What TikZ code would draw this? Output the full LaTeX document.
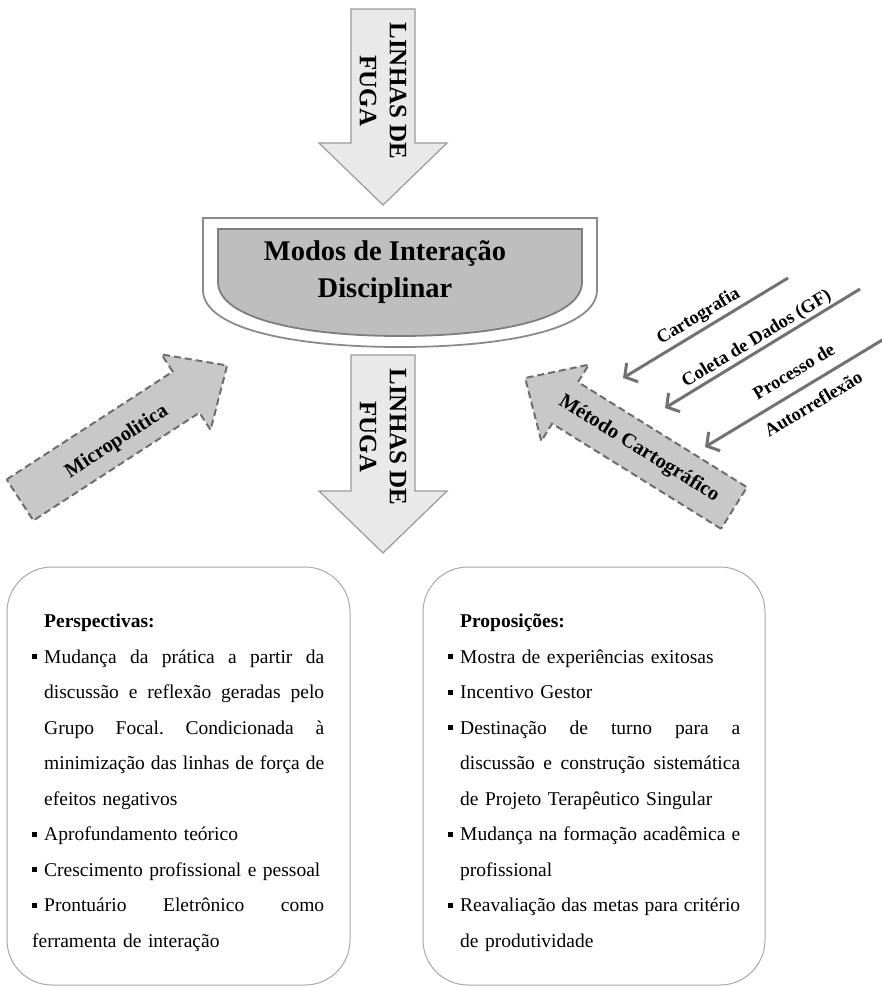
\documentclass[tikz,border=0pt]{standalone}
\usepackage{fontspec}
\setmainfont{Liberation Serif}
\usetikzlibrary{arrows.meta}
\definecolor{fugafill}{HTML}{E9E9E9}
\definecolor{fugaline}{HTML}{9A9A9A}
\definecolor{modosfill}{HTML}{BEBEBE}
\definecolor{modosline}{HTML}{7E7E7E}
\definecolor{dashfill}{HTML}{C8C8C8}
\definecolor{dashline}{HTML}{6E6E6E}
\definecolor{thinline}{HTML}{727272}
\definecolor{boxline}{HTML}{A8A8A8}
\newcommand{\blt}{\makebox[12pt][l]{\rule[4pt]{5pt}{5pt}}}
\newcommand{\jline}[1]{{\spaceskip=0pt\relax\xspaceskip=0pt\relax\makebox[280pt][s]{#1}}}
\begin{document}
\begin{tikzpicture}[x=1pt,y=-1pt,
  fuga/.style={draw=fugaline,fill=fugafill,line width=1.2pt},
  fugatext/.style={rotate=-90,align=center,inner sep=0pt,
    font=\bfseries\fontsize{25}{30}\selectfont},
  dashedarrow/.style={draw=dashline,fill=dashfill,line width=2pt,
    dash pattern=on 7pt off 4pt},
  dashedtext/.style={transform shape,inner sep=0pt,
    font=\bfseries\fontsize{20.5}{24}\selectfont},
  thinarrow/.style={draw=thinline,line width=3pt,
    -{Straight Barb[length=9pt,width=22pt]}},
  arrowlabel/.style={sloped,inner sep=3pt,font=\bfseries\fontsize{18.5}{38}\selectfont},
  roundbox/.style={draw=boxline,line width=1pt,rounded corners=45pt},
  boxtext/.style={anchor=north west,inner sep=0pt,text width=300pt,align=left,
    font=\fontsize{19.5}{35.5}\selectfont}]
\useasboundingbox (0,0) rectangle (881,987);

\draw[fuga] (351,9) -- (415,9) -- (415,143) -- (447,143) -- (383,205)
  -- (319,143) -- (351,143) -- cycle;
\node[fugatext] (fugatop) at (383,91) {LINHAS DE\\FUGA};

\draw[line width=1.8pt,draw=modosline!90,fill=white] (203,218) -- (597,218) -- (597,290)
  .. controls (597,328) and (510,347) .. (400,347)
  .. controls (290,347) and (203,328) .. (203,290) -- cycle;
\draw[line width=1.8pt,draw=modosline,fill=modosfill] (218,229) -- (582,229) -- (582,282)
  .. controls (582,318) and (500,336) .. (400,336)
  .. controls (300,336) and (218,318) .. (218,282) -- cycle;
\node[align=center,font=\bfseries\fontsize{28.5}{37}\selectfont] (modos) at (385,272)
  {Modos de Interação\\Disciplinar};

\draw[fuga] (351,355) -- (415,355) -- (415,491) -- (447,491) -- (383,553)
  -- (319,491) -- (351,491) -- cycle;
\node[fugatext] (fugabottom) at (383,437) {LINHAS DE\\FUGA};

\begin{scope}[shift={(20,500)},rotate=33]
\draw[dashedarrow] (0,-24.5) -- (198,-24.5) -- (198,-45) -- (247,0) -- (198,45)
  -- (198,24.5) -- (0,24.5) -- cycle;
\node[dashedtext] (micro) at (113,4) {Micropolitica};
\end{scope}

\begin{scope}[shift={(734,508)},rotate=148.1]
\draw[dashedarrow] (0,-24.5) -- (199,-24.5) -- (199,-45) -- (246,0) -- (199,45)
  -- (199,24.5) -- (0,24.5) -- cycle;
\node[dashedtext,rotate=180] (metodo) at (112,0) {Método Cartográfico};
\end{scope}

\coordinate (cartoA) at (788,278);
\coordinate (cartoB) at (623,378);
\coordinate (coletaA) at (860,289);
\coordinate (coletaB) at (665,408);
\coordinate (procA) at (884,339);
\coordinate (procB) at (705,447);
\draw[thinarrow] (cartoA) -- node[arrowlabel,above] {Cartografia} (cartoB);
\draw[thinarrow] (coletaA) -- node[arrowlabel,above,inner sep=1pt] {Coleta de Dados (GF)} (coletaB);
\draw[thinarrow] (procA) -- node[arrowlabel,align=center,pos=0.45] {Processo de\\Autorreflexão} (procB);

\draw[roundbox] (7,567) rectangle (350,985);
\draw[roundbox] (423,567) rectangle (765,985);

\node[boxtext] (persp) at (32,614) {\hspace*{12pt}{\bfseries Perspectivas:}\\
\blt\jline{Mudança da prática a partir da}\\
\hspace*{12pt}\jline{discussão e reflexão geradas pelo}\\
\hspace*{12pt}\jline{Grupo Focal.\ Condicionada à}\\
\hspace*{12pt}\jline{minimização das linhas de força de}\\
\hspace*{12pt}efeitos negativos\\
\blt Aprofundamento teórico\\
\blt Crescimento profissional e pessoal\\
\blt\jline{Prontuário Eletrônico como}\\
ferramenta de interação};

\node[boxtext] (propos) at (448,614) {\hspace*{12pt}{\bfseries Proposições:}\\
\blt Mostra de experiências exitosas\\
\blt Incentivo Gestor\\
\blt\jline{Destinação de turno para a}\\
\hspace*{12pt}\jline{discussão e construção sistemática}\\
\hspace*{12pt}de Projeto Terapêutico Singular\\
\blt\jline{Mudança na formação acadêmica e}\\
\hspace*{12pt}profissional\\
\blt\jline{Reavaliação das metas para critério}\\
\hspace*{12pt}de produtividade};
\end{tikzpicture}
\end{document}
